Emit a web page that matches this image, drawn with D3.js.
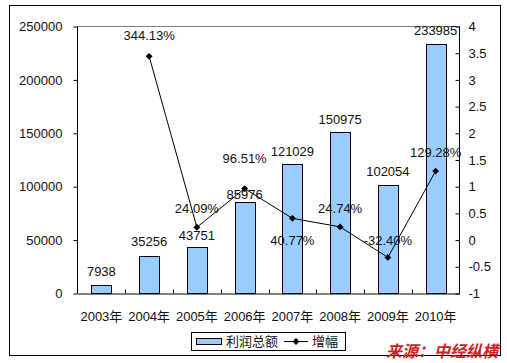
<!DOCTYPE html>
<html>
<head>
<meta charset="utf-8">
<script src="https://cdn.jsdelivr.net/npm/d3@7"></script>
<style>
  body { margin: 0; background: #fff; }
  svg text { font-family: "Liberation Sans", Arial, "Noto Sans CJK SC", sans-serif; fill: #111; }
</style>
</head>
<body>
<svg id="chart" width="507" height="363"></svg>
<script>
// data
var years = ['2003年','2004年','2005年','2006年','2007年','2008年','2009年','2010年'];
var profit = [7938, 35256, 43751, 85976, 121029, 150975, 102054, 233985];
var growth = [null, 3.4413, 0.2409, 0.9651, 0.4077, 0.2474, -0.3240, 1.2928];
var growthLabels = [null, '344.13%', '24.09%', '96.51%', '40.77%', '24.74%', '-32.40%', '129.28%'];
var leftTicks = [0, 50000, 100000, 150000, 200000, 250000];
var rightTicks = [-1, -0.5, 0, 0.5, 1, 1.5, 2, 2.5, 3, 3.5, 4];

// label nudges (layout only), px above the mark
var barLabelUp = [14, 14, 11, 7, 13, 13, 13, 13];
var lineLabelUp = [0, 21, 19, 30, -22, 18, 17, 19];

var fs = '13px';
var svg = d3.select('#chart');
var m = {left: 77.5, right: 459.5, top: 26.5, bottom: 293.5};

// outer frame
svg.append('rect')
   .attr('x', 9.5).attr('y', 5.5)
   .attr('width', 491).attr('height', 350)
   .attr('fill', 'none').attr('stroke', '#000').attr('stroke-width', 1);

var x = d3.scaleBand().domain(years).range([m.left, m.right]).padding(0);
var yL = d3.scaleLinear().domain([0, 250000]).range([m.bottom, m.top]);
var yR = d3.scaleLinear().domain([-1, 4]).range([m.bottom, m.top]);
var barW = x.bandwidth() * 0.42;

// plot area top edge (gray)
svg.append('line')
   .attr('x1', m.left).attr('x2', m.right)
   .attr('y1', m.top).attr('y2', m.top)
   .attr('stroke', '#808080');

// bars
svg.append('g').selectAll('rect')
   .data(profit)
   .enter()
   .append('rect')
   .attr('x', (d,i)=>Math.round(x(years[i]) + (x.bandwidth()-barW)/2) + 0.5)
   .attr('y', d=>Math.round(yL(d)) + 0.5)
   .attr('width', Math.round(barW))
   .attr('height', d=>m.bottom - Math.round(yL(d)) - 0.5)
   .attr('fill', '#99ccff')
   .attr('stroke', '#000');

svg.append('g').selectAll('text')
   .data(profit)
   .enter()
   .append('text')
   .attr('x', (d,i)=>x(years[i]) + x.bandwidth()/2)
   .attr('y', (d,i)=>yL(d) - barLabelUp[i])
   .attr('dy', '0.35em')
   .attr('text-anchor', 'middle')
   .style('font-size', fs)
   .text(d=>d);

// left axis
var axL = d3.axisLeft(yL).tickValues(leftTicks).tickSize(4).tickPadding(11).tickFormat(d3.format('d'));
var gL = svg.append('g').attr('transform', 'translate(' + m.left + ',0)').call(axL);

// right axis (ticks point inward)
var axR = d3.axisRight(yR).tickValues(rightTicks).tickSize(-4).tickPadding(9).tickFormat(d=>d);
var gR = svg.append('g').attr('transform', 'translate(' + m.right + ',0)').call(axR);

// bottom axis: category boundaries, ticks inward
var axB = d3.axisBottom(x).tickSize(0).tickPadding(18);
var gB = svg.append('g').attr('transform', 'translate(0,' + m.bottom + ')').call(axB);
gB.selectAll('.bound')
  .data(years.slice(1))
  .enter()
  .append('line')
  .attr('class', 'bound')
  .attr('x1', d=>Math.round(x(d)) + 0.5).attr('x2', d=>Math.round(x(d)) + 0.5)
  .attr('y1', 0).attr('y2', -4)
  .attr('stroke', '#000');

[gL, gR, gB].forEach(function(g){
  g.select('.domain').attr('stroke', '#000');
  g.selectAll('.tick line').attr('stroke', '#000');
  g.selectAll('.tick text').attr('fill', '#111').style('font-size', fs)
   .style('font-family', '"Liberation Sans", Arial, "Noto Sans CJK SC", sans-serif');
});
gL.select('.domain').attr('d', 'M0,' + m.top + 'V' + m.bottom);
gR.select('.domain').attr('d', 'M0,' + m.top + 'V' + m.bottom);

// growth line
var pts = growth.map((g,i)=>({g:g, i:i})).filter(d=>d.g !== null);
var line = d3.line()
   .x(d=>x(years[d.i]) + x.bandwidth()/2)
   .y(d=>yR(d.g));
svg.append('path')
   .datum(pts)
   .attr('d', line)
   .attr('fill', 'none')
   .attr('stroke', '#000')
   .attr('stroke-width', 1);

var diamond = d3.symbol().type(d3.symbolDiamond2).size(30);
svg.append('g').selectAll('path')
   .data(pts)
   .enter()
   .append('path')
   .attr('d', diamond)
   .attr('transform', d=>'translate(' + (x(years[d.i]) + x.bandwidth()/2) + ',' + yR(d.g) + ')')
   .attr('fill', '#000');

svg.append('g').selectAll('text')
   .data(pts)
   .enter()
   .append('text')
   .attr('x', d=>x(years[d.i]) + x.bandwidth()/2)
   .attr('y', d=>yR(d.g) - lineLabelUp[d.i])
   .attr('dy', '0.35em')
   .attr('text-anchor', 'middle')
   .style('font-size', fs)
   .text(d=>growthLabels[d.i]);

// legend
var lg = svg.append('g');
lg.append('rect')
  .attr('x', 191.5).attr('y', 332.5).attr('width', 154).attr('height', 18)
  .attr('fill', '#fff').attr('stroke', '#000');
lg.append('rect')
  .attr('x', 196.5).attr('y', 338.5).attr('width', 25).attr('height', 6)
  .attr('fill', '#99ccff').attr('stroke', '#000');
lg.append('text').attr('x', 226).attr('y', 341.5).attr('dy', '0.35em')
  .style('font-size', fs).text('利润总额');
lg.append('line').attr('x1', 284).attr('x2', 308).attr('y1', 341.5).attr('y2', 341.5)
  .attr('stroke', '#000');
lg.append('path').attr('d', diamond).attr('transform', 'translate(296,341.5)').attr('fill', '#000');
lg.append('text').attr('x', 312).attr('y', 341.5).attr('dy', '0.35em')
  .style('font-size', fs).text('增幅');

// source note
svg.append('text')
   .attr('x', 498).attr('y', 351.5).attr('dy', '0.35em')
   .attr('text-anchor', 'end')
   .style('font-size', '16px').style('font-weight', 'bold').style('font-style', 'italic')
   .style('fill', '#cc2222')
   .text('来源：中经纵横');
</script>
</body>
</html>
